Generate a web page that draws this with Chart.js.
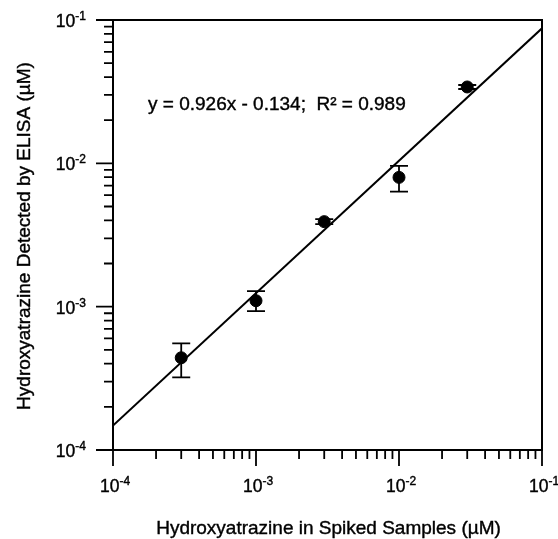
<!DOCTYPE html>
<html>
<head>
<meta charset="utf-8">
<script src="https://cdn.jsdelivr.net/npm/chart.js@4.4.1/dist/chart.umd.min.js"></script>
<style>
  html, body { margin: 0; padding: 0; background: #fff; }
  canvas { display: block; }
</style>
</head>
<body>
<canvas id="elisaChart" width="558" height="539"></canvas>
<script>
// spiked concentration (uM) vs. ELISA result (uM)
const spiked = [3e-4, 1e-3, 3e-3, 1e-2, 3e-2];
const detected = [4.4e-4, 1.10e-3, 3.92e-3, 7.98e-3, 3.41e-2];
const errHigh = [5.55e-4, 1.285e-3, 4.08e-3, 9.6e-3, 3.52e-2];
const errLow = [3.21e-4, 9.3e-4, 3.77e-3, 6.34e-3, 3.30e-2];

// regression line end points
const fitX = [1e-4, 1e-1];
const fitY = [1.48e-4, 0.0875];

const decades = [1e-4, 1e-3, 1e-2, 1e-1];
const decadeExp = ['-4', '-3', '-2', '-1'];
const minorSteps = [2, 3, 4, 5, 6, 7, 8, 9];

const fitText = 'y = 0.926x - 0.134;  R\u00B2 = 0.989';
const xTitle = 'Hydroxyatrazine in Spiked Samples (\u00B5M)';
const yTitle = 'Hydroxyatrazine Detected by ELISA (\u00B5M)';

const FONT = '"Liberation Sans", Arial, sans-serif';

// text a little heavier, like the scanned figure
function heavyText(ctx, str, x, y) {
    ctx.fillText(str, x, y);
    ctx.strokeText(str, x, y);
}

const errorBars = {
    id: 'errorBars',
    afterDatasetsDraw(chart) {
        const { ctx, scales: { x, y } } = chart;
        ctx.save();
        ctx.strokeStyle = '#000';
        ctx.lineWidth = 1.8;
        spiked.forEach((v, i) => {
            const px = x.getPixelForValue(v);
            const top = y.getPixelForValue(errHigh[i]);
            const bot = y.getPixelForValue(errLow[i]);
            ctx.beginPath();
            ctx.moveTo(px, top); ctx.lineTo(px, bot);
            ctx.moveTo(px - 9, top); ctx.lineTo(px + 9, top);
            ctx.moveTo(px - 9, bot); ctx.lineTo(px + 9, bot);
            ctx.stroke();
        });
        ctx.restore();
    }
};

const axesFrame = {
    id: 'axesFrame',
    afterDraw(chart) {
        const { ctx, chartArea: a, scales: { x, y } } = chart;
        ctx.save();
        ctx.strokeStyle = '#000';
        ctx.fillStyle = '#000';

        // box
        ctx.lineWidth = 2;
        ctx.strokeRect(a.left, a.top, a.right - a.left, a.bottom - a.top);

        // ticks
        ctx.lineWidth = 1.8;
        ctx.beginPath();
        decades.forEach((d, i) => {
            const px = x.getPixelForValue(d);
            const py = y.getPixelForValue(d);
            ctx.moveTo(px, a.bottom); ctx.lineTo(px, a.bottom + 16);
            ctx.moveTo(a.left, py); ctx.lineTo(a.left - 17, py);
            if (i < decades.length - 1) {
                minorSteps.forEach(m => {
                    const mx = x.getPixelForValue(d * m);
                    const my = y.getPixelForValue(d * m);
                    ctx.moveTo(mx, a.bottom); ctx.lineTo(mx, a.bottom + 9);
                    ctx.moveTo(a.left, my); ctx.lineTo(a.left - 9, my);
                });
            }
        });
        ctx.stroke();

        ctx.lineWidth = 0.4;

        // tick labels: 10 with superscript exponent
        const drawPow = (cx, baseY, exp, align) => {
            ctx.font = '17.5px ' + FONT;
            const w1 = ctx.measureText('10').width;
            ctx.font = '12px ' + FONT;
            const w2 = ctx.measureText(exp).width;
            const total = w1 + w2;
            const start = align === 'right' ? cx - total : cx - total / 2;
            ctx.textAlign = 'left';
            ctx.textBaseline = 'alphabetic';
            ctx.font = '17.5px ' + FONT;
            heavyText(ctx, '10', start, baseY);
            ctx.font = '12px ' + FONT;
            heavyText(ctx, exp, start + w1, baseY - 7);
        };
        decades.forEach((d, i) => {
            drawPow(x.getPixelForValue(d) + 2, a.bottom + 42, decadeExp[i], 'center');
            drawPow(86, y.getPixelForValue(d) + 7, decadeExp[i], 'right');
        });

        // titles
        ctx.font = '19px ' + FONT;
        ctx.textAlign = 'center';
        ctx.textBaseline = 'alphabetic';
        heavyText(ctx, xTitle, (a.left + a.right) / 2 + 1, 534);
        ctx.save();
        ctx.translate(30, (a.top + a.bottom) / 2 + 1);
        ctx.rotate(-Math.PI / 2);
        heavyText(ctx, yTitle, 0, 0);
        ctx.restore();

        // regression annotation
        ctx.font = '19px ' + FONT;
        ctx.textAlign = 'left';
        heavyText(ctx, fitText, 148, 110);

        ctx.restore();
    }
};

new Chart(document.getElementById('elisaChart'), {
    data: {
        datasets: [{
            type: 'scatter',
            label: 'ELISA',
            data: spiked.map((v, i) => ({ x: v, y: detected[i] })),
            backgroundColor: '#000',
            borderColor: '#000',
            pointRadius: 6,
            pointHoverRadius: 6
        }, {
            type: 'line',
            label: 'Fit',
            data: fitX.map((v, i) => ({ x: v, y: fitY[i] })),
            borderColor: '#000',
            borderWidth: 2,
            pointRadius: 0,
            fill: false,
            tension: 0
        }]
    },
    options: {
        responsive: false,
        animation: false,
        events: [],
        layout: { padding: { left: 113, top: 20, right: 16, bottom: 89 } },
        scales: {
            x: { type: 'logarithmic', min: 1e-4, max: 1e-1, display: false },
            y: { type: 'logarithmic', min: 1e-4, max: 1e-1, display: false }
        },
        plugins: {
            legend: { display: false },
            tooltip: { enabled: false }
        }
    },
    plugins: [errorBars, axesFrame]
});
</script>
</body>
</html>
